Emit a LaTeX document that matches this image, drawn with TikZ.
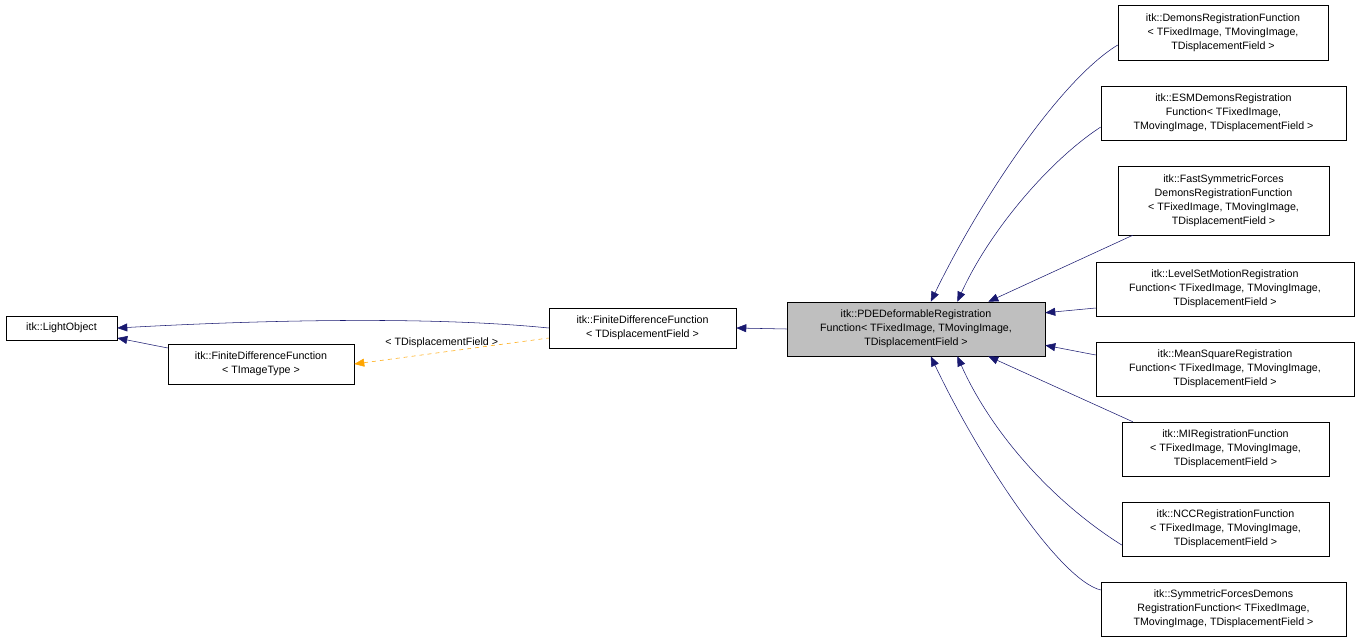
\documentclass[tikz,border=0pt]{standalone}
\usepackage{fontspec}
\setmainfont{Liberation Sans}
\usetikzlibrary{arrows.meta}
\definecolor{edgeblue}{RGB}{25,25,112}
\definecolor{edgeorange}{RGB}{255,165,0}
\tikzset{
  cls/.style 2 args={draw, thin, fill=white, inner sep=0pt, align=center,
    minimum width=#1*0.75pt, minimum height=#2*0.75pt,
    font=\fontsize{8}{10.5}\selectfont},
  inh/.style={draw=edgeblue, {Triangle[length=7.5pt,width=6pt,fill=edgeblue]}-},
  tmpl/.style={draw=edgeorange, dashed, {Triangle[length=7.5pt,width=6pt,fill=edgeorange]}-}
}
\begin{document}
\begin{tikzpicture}[x=0.75pt,y=-0.75pt]
\useasboundingbox (0,0) rectangle (1360,643);
% classes
\node[cls={111}{24}] (light) at (61.5,328) {itk::LightObject};
\node[cls={186}{40}] (fdfimg) at (261,364) {itk::FiniteDifferenceFunction\\< TImageType >};
\node[cls={187}{40}] (fdfdisp) at (642.5,328) {itk::FiniteDifferenceFunction\\< TDisplacementField >};
\node[cls={258}{54}, fill={rgb,255:red,191;green,191;blue,191}] (pde) at (916,329)
  {itk::PDEDeformableRegistration\\Function< TFixedImage, TMovingImage,\\TDisplacementField >};
% derived classes
\node[cls={210}{55}] (demons) at (1223,32.5) {itk::DemonsRegistrationFunction\\< TFixedImage, TMovingImage,\\TDisplacementField >};
\node[cls={245}{54}] (esm) at (1223.5,113) {itk::ESMDemonsRegistration\\Function< TFixedImage,\\TMovingImage, TDisplacementField >};
\node[cls={211}{69}] (fastsym) at (1223.5,200.5) {itk::FastSymmetricForces\\DemonsRegistrationFunction\\< TFixedImage, TMovingImage,\\TDisplacementField >};
\node[cls={258}{54}] (levelset) at (1225,289) {itk::LevelSetMotionRegistration\\Function< TFixedImage, TMovingImage,\\TDisplacementField >};
\node[cls={258}{54}] (meansq) at (1225,369) {itk::MeanSquareRegistration\\Function< TFixedImage, TMovingImage,\\TDisplacementField >};
\node[cls={207}{54}] (mi) at (1225.5,449) {itk::MIRegistrationFunction\\< TFixedImage, TMovingImage,\\TDisplacementField >};
\node[cls={207}{54}] (ncc) at (1225.5,529) {itk::NCCRegistrationFunction\\< TFixedImage, TMovingImage,\\TDisplacementField >};
\node[cls={245}{54}] (symf) at (1223.5,609) {itk::SymmetricForcesDemons\\RegistrationFunction< TFixedImage,\\TMovingImage, TDisplacementField >};
% edges
\draw[inh] (light.east) .. controls (300,318) and (450,318) .. (fdfdisp.west);
\draw[inh] (light.east |- 0,338) -- (fdfimg.north west |- 0,348);
\draw[inh] (fdfdisp.east) -- (pde.west);
\draw[tmpl] (fdfimg.east) -- node[above, pos=0.45, font=\fontsize{8}{9}\selectfont, text=black] {< TDisplacementField >} (fdfdisp.west |- 0,338);
\draw[inh] ([xshift=144*0.75pt]pde.north west) .. controls (980,200) and (1060,80) .. (demons.west |- 0,45);
\draw[inh] ([xshift=-88*0.75pt]pde.north east) .. controls (990,230) and (1050,160) .. (esm.west |- 0,127);
\draw[inh] ([xshift=-57*0.75pt]pde.north east) -- ([xshift=15*0.75pt]fastsym.south west);
\draw[inh] ([yshift=-11*0.75pt]pde.north east) -- (levelset.west |- 0,308);
\draw[inh] ([yshift=11*0.75pt]pde.south east) -- (meansq.west |- 0,355);
\draw[inh] ([xshift=-57*0.75pt]pde.south east) -- ([xshift=11*0.75pt]mi.north west);
\draw[inh] ([xshift=-88*0.75pt]pde.south east) .. controls (990,430) and (1050,500) .. (ncc.west |- 0,545);
\draw[inh] ([xshift=144*0.75pt]pde.south west) .. controls (980,460) and (1060,580) .. (symf.west |- 0,590);
\end{tikzpicture}
\end{document}
